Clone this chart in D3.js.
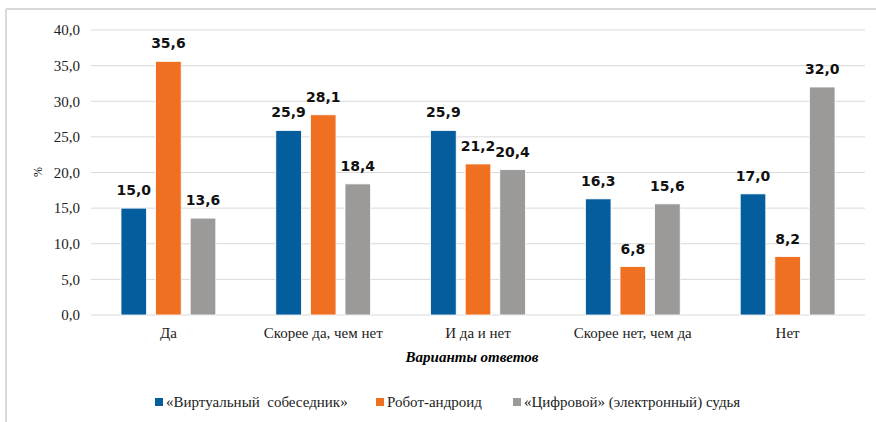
<!DOCTYPE html>
<html>
<head>
  <meta charset="utf-8">
  <title>Варианты ответов</title>
  <style type="text/css">
    body { margin: 0; background-color: #fff; }
    svg { display: block; }
    .serif, .tick text, .legend text { font-family: "Liberation Serif", "Times New Roman", "DejaVu Serif", "Noto Serif", serif; }
    .tick text { font-size: 15px; fill: #222; }
    text.vals { font-family: "DejaVu Sans", Verdana, sans-serif; font-weight: bold; font-size: 14px; fill: #111; }
    .legend text { font-size: 15px; fill: #222; white-space: pre; }
  </style>
  <script src="https://d3js.org/d3.v7.min.js"></script>
</head>
<body>
<script>
var categories = ["Да", "Скорее да, чем нет", "И да и нет", "Скорее нет, чем да", "Нет"];
var seriesNames = ["«Виртуальный  собеседник»", "Робот-андроид", "«Цифровой» (электронный) судья"];
var virtual = [15.0, 25.9, 25.9, 16.3, 17.0];
var robot = [35.6, 28.1, 21.2, 6.8, 8.2];
var judge = [13.6, 18.4, 20.4, 15.6, 32.0];
var yTicks = [0, 5, 10, 15, 20, 25, 30, 35, 40];
var colors = ["#045e9d", "#f07022", "#9b9a99"];

var W = 876, H = 422;
var margin = {top: 30, right: 11, bottom: 107, left: 91};
var width = W - margin.left - margin.right;
var height = H - margin.top - margin.bottom;

var svg = d3.select("body").append("svg")
  .attr("width", W)
  .attr("height", H);

// frame (only top/left edges show in the original)
svg.append("line").attr("x1", 6).attr("x2", W).attr("y1", 9).attr("y2", 9)
  .attr("stroke", "#d9d9d9").attr("stroke-width", 2);
svg.append("line").attr("x1", 6).attr("x2", 6).attr("y1", 9).attr("y2", H)
  .attr("stroke", "#d9d9d9").attr("stroke-width", 2);

var chart = svg.append("g")
  .attr("transform", "translate(" + margin.left + "," + margin.top + ")");

var x0 = d3.scaleBand().domain(categories).range([0, width]).paddingInner(0).paddingOuter(0);
var x1 = d3.scaleBand().domain(d3.range(3)).range([30, x0.bandwidth() - 30]).paddingInner(0.26);
var y = d3.scaleLinear().domain([0, 40]).range([height, 0]);

// gridlines
chart.append("g").selectAll("line")
  .data(yTicks).enter().append("line")
  .attr("x1", 0).attr("x2", width)
  .attr("y1", function(d) { return y(d); })
  .attr("y2", function(d) { return y(d); })
  .attr("stroke", "#d9d9d9").attr("stroke-width", 1);

var yaxis = d3.axisLeft(y).tickValues(yTicks).tickSize(0).tickPadding(11)
  .tickFormat(function(d) { return d3.format(".1f")(d).replace(".", ","); });
chart.append("g").call(yaxis)
  .attr("font-family", null).attr("font-size", null)
  .call(function(g) { g.select(".domain").remove(); });

var xaxis = d3.axisBottom(x0).tickSize(0).tickPadding(12);
chart.append("g")
  .attr("transform", "translate(0," + height + ")")
  .call(xaxis)
  .attr("font-family", null).attr("font-size", null)
  .call(function(g) { g.select(".domain").remove(); });

var rows = categories.map(function(c, i) {
  return {cat: c, vals: [virtual[i], robot[i], judge[i]]};
});

var groups = chart.selectAll("g.grp")
  .data(rows).enter().append("g")
  .attr("class", "grp")
  .attr("transform", function(d) { return "translate(" + x0(d.cat) + ",0)"; });

groups.selectAll("rect")
  .data(function(d) { return d.vals; })
  .enter().append("rect")
  .attr("x", function(d, i) { return x1(i); })
  .attr("y", function(d) { return y(d); })
  .attr("width", x1.bandwidth())
  .attr("height", function(d) { return height - y(d); })
  .attr("fill", function(d, i) { return colors[i]; })
  .attr("stroke", "#fff").attr("stroke-width", 0.8);

groups.selectAll("text.vals")
  .data(function(d) { return d.vals; })
  .enter().append("text")
  .attr("class", "vals")
  .attr("text-anchor", "middle")
  .attr("x", function(d, i) { return x1(i) + x1.bandwidth() / 2; })
  .attr("y", function(d) { return y(d) - 13; })
  .text(function(d) { return d3.format(".1f")(d).replace(".", ","); });

// axis titles
svg.append("text")
  .attr("class", "serif")
  .attr("transform", "translate(42,172) rotate(-90)")
  .attr("text-anchor", "middle")
  .style("font-size", "12px")
  .text("%");

svg.append("text")
  .attr("class", "serif")
  .attr("x", 472).attr("y", 362)
  .attr("text-anchor", "middle")
  .style("font-size", "15px")
  .style("font-weight", "bold").style("font-style", "italic")
  .text("Варианты ответов");

// legend
var legendX = [155, 376, 513];
var legend = svg.append("g").attr("class", "legend")
  .selectAll("g").data(seriesNames).enter().append("g")
  .attr("transform", function(d, i) { return "translate(" + legendX[i] + ",398)"; });
legend.append("rect").attr("width", 8).attr("height", 8)
  .attr("fill", function(d, i) { return colors[i]; });
legend.append("text").attr("x", 11).attr("y", 9)
  .text(function(d) { return d; });
</script>
</body>
</html>
